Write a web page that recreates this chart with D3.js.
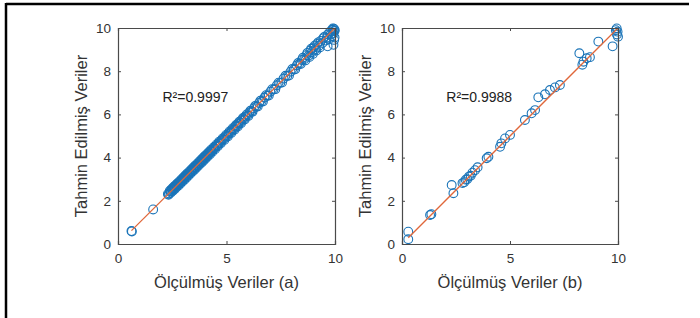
<!DOCTYPE html>
<html>
<head>
<meta charset="utf-8">
<script src="https://cdn.jsdelivr.net/npm/d3@7"></script>
<style>
body { margin: 0; background: #fff; }
svg { display: block; font-family: "Liberation Sans", Arial, sans-serif; }
</style>
</head>
<body>
<div id="chart"></div>
<script>
// panel (a): measured vs predicted
let measA = [0.62,0.64,1.62,2.30,2.36,2.41,2.46,2.50,2.55,2.59,2.63,2.68,2.72,2.77,2.81,2.86,2.90,2.95,2.99,3.04,3.08,3.13,3.17,3.22,3.26,3.31,3.35,3.40,3.44,3.49,3.53,3.58,3.62,3.67,3.71,3.76,3.80,3.85,3.89,3.94,3.98,4.03,4.07,4.12,4.16,4.21,4.26,4.32,4.38,4.44,4.50,4.57,4.63,4.70,4.78,4.86,4.94,5.02,5.10,5.18,5.25,5.33,5.40,5.48,5.55,5.63,5.71,5.80,5.88,5.97,6.06,6.15,6.26,6.38,6.50,6.62,6.75,6.88,7.02,7.17,7.32,7.48,7.63,7.80,7.95,8.10,8.24,8.36,8.47,8.58,8.68,8.78,8.86,8.94,9.02,9.10,9.18,9.26,9.34,9.42,9.50,9.58,9.66,9.72,9.78,9.84,9.88,9.92,9.95,9.97,9.98,9.93,9.66,
    2.33,2.39,2.44,2.48,2.53,2.57,2.62,2.66,2.70,2.75,2.79,2.84,2.88,2.93,2.97,3.02,3.06,3.11,3.15,3.20,3.24,3.29,3.33,3.38,3.42,3.47,3.51,3.56,3.60,3.65,3.69,3.74,3.78,3.83,3.87,3.92,3.96,4.01,4.05,4.10,4.14,4.19,4.24,4.29,4.35,4.41,4.47,4.54,4.60,4.67,4.74,4.82,4.90,4.98,5.06,5.14,5.22,5.29,5.37,5.44,5.52,5.59,5.67,5.76,5.84,5.93,6.01,6.10,6.20,6.32,6.44,6.56,6.68,6.82,6.95,7.10,7.25,7.40,7.56,7.72,7.88,8.03,8.17,8.30,8.42,8.52,8.63,8.73,8.82,8.90,8.98,9.06,9.14,9.22,9.30,9.46,9.62,9.80,9.90,9.96,9.99];
let predA = [0.60,0.58,1.60,2.32,2.34,2.44,2.45,2.53,2.54,2.60,2.66,2.67,2.74,2.76,2.83,2.85,2.92,2.94,3.01,3.03,3.10,3.12,3.19,3.21,3.28,3.30,3.37,3.39,3.46,3.48,3.55,3.57,3.64,3.66,3.73,3.75,3.82,3.84,3.91,3.93,4.00,4.02,4.09,4.11,4.18,4.20,4.27,4.31,4.40,4.43,4.52,4.55,4.65,4.68,4.80,4.85,4.96,5.00,5.13,5.16,5.28,5.31,5.43,5.46,5.58,5.61,5.74,5.78,5.91,5.95,6.09,6.13,6.29,6.36,6.53,6.60,6.78,6.86,7.05,7.15,7.35,7.46,7.66,7.78,7.98,8.08,8.27,8.34,8.52,8.55,8.74,8.72,8.95,8.88,9.10,9.02,9.26,9.18,9.40,9.30,9.58,9.42,9.70,9.48,9.84,9.62,9.92,9.74,9.97,9.86,9.56,9.22,9.15,
    2.28,2.47,2.38,2.56,2.47,2.65,2.55,2.73,2.64,2.82,2.71,2.91,2.80,3.00,2.89,3.09,2.98,3.18,3.07,3.27,3.16,3.36,3.25,3.45,3.34,3.54,3.43,3.63,3.52,3.72,3.61,3.81,3.70,3.90,3.79,3.99,3.88,4.08,3.97,4.17,4.06,4.26,4.15,4.36,4.27,4.48,4.39,4.61,4.52,4.74,4.66,4.89,4.82,5.05,4.98,5.21,5.14,5.36,5.29,5.51,5.44,5.66,5.59,5.83,5.76,6.00,5.93,6.17,6.12,6.39,6.36,6.63,6.60,6.89,6.87,7.17,7.17,7.47,7.48,7.79,7.80,8.10,8.09,8.38,8.33,8.62,8.50,8.85,8.66,9.04,8.80,9.18,8.96,9.33,9.10,9.52,9.55,9.70,9.98,9.45,9.90];

// panel (b)
let measB = [0.29,0.29,1.30,1.36,2.30,2.38,2.80,2.88,2.95,3.02,3.10,3.18,3.26,3.38,3.50,3.92,4.00,4.54,4.60,4.77,5.00,5.69,6.00,6.16,6.31,6.62,6.85,7.08,7.31,8.21,8.35,8.40,8.55,8.70,9.09,9.75,9.90,9.94,9.95,9.98,10.0];
let predB = [0.57,0.22,1.34,1.38,2.73,2.35,2.82,2.86,2.98,3.00,3.12,3.16,3.30,3.42,3.55,3.97,4.04,4.50,4.66,4.89,5.05,5.74,6.05,6.20,6.79,6.93,7.13,7.25,7.36,8.83,8.30,8.44,8.60,8.65,9.37,9.15,9.90,9.98,9.70,9.83,9.60];

let ticksY = [0,2,4,6,8,10];
let ticksX = [0,5,10];
let r2Labels = ["R\u00b2=0.9997","R\u00b2=0.9988"];
let xTitles = ["Ölçülmüş Veriler (a)","Ölçülmüş Veriler (b)"];
let yTitle = "Tahmin Edilmiş Veriler";

var svg = d3.select("#chart").append("svg")
    .attr("width", 700)
    .attr("height", 318);

// frame of the figure
svg.append("line").attr("x1", 6).attr("y1", 4).attr("x2", 689).attr("y2", 4)
    .attr("stroke", "#000").attr("stroke-width", 2.5);
svg.append("line").attr("x1", 6).attr("y1", 3).attr("x2", 6).attr("y2", 318)
    .attr("stroke", "#000").attr("stroke-width", 2.5);

function panel(left, right, meas, pred, r2, xTitle){
    let x = d3.scaleLinear().domain([0,10]).range([left, right]);
    let y = d3.scaleLinear().domain([0,10]).range([244, 28]);
    let g = svg.append("g");

    // points
    g.selectAll("circle.pt")
        .data(meas)
        .enter().append("circle")
        .attr("class", "pt")
        .attr("cx", d => x(d))
        .attr("cy", (d, i) => y(pred[i]))
        .attr("r", 4.4)
        .attr("fill", "none")
        .attr("stroke", "#1a74b8")
        .attr("stroke-width", 1.1);

    // y = x line over data range
    let lo = d3.min(meas), hi = d3.max(meas);
    g.append("line")
        .attr("x1", x(lo)).attr("y1", y(lo))
        .attr("x2", x(hi)).attr("y2", y(hi))
        .attr("stroke", "#E0673A")
        .attr("stroke-width", 1.3);

    // axes (MATLAB style, ticks inside, box on)
    let axColor = "#4a4a4a";
    let ax = [
        g.append("g").attr("transform", "translate(0,244)")
            .call(d3.axisBottom(x).tickValues(ticksX).tickSize(-3).tickPadding(9)),
        g.append("g").attr("transform", "translate(" + left + ",0)")
            .call(d3.axisLeft(y).tickValues(ticksY).tickSize(-3).tickPadding(7)),
        g.append("g").attr("transform", "translate(0,28)")
            .call(d3.axisTop(x).tickValues(ticksX).tickSize(-3).tickFormat("")),
        g.append("g").attr("transform", "translate(" + right + ",0)")
            .call(d3.axisRight(y).tickValues(ticksY).tickSize(-3).tickFormat(""))
    ];
    ax.forEach(a => {
        a.select(".domain").attr("stroke", axColor).attr("stroke-width", 1.2);
        a.selectAll(".tick line").attr("stroke", axColor);
        a.selectAll(".tick text").attr("fill", "#333").style("font-size", "13.5px")
            .style("font-family", "Liberation Sans, Arial, sans-serif");
    });

    g.append("text")
        .attr("x", x(2.05)).attr("y", 102)
        .attr("fill", "#222")
        .style("font-size", "14px")
        .text(r2);

    g.append("text")
        .attr("x", (left + right) / 2).attr("y", 288)
        .attr("text-anchor", "middle")
        .attr("fill", "#333")
        .style("font-size", "16.5px")
        .text(xTitle);

    g.append("text")
        .attr("transform", "translate(" + (left - 31) + ",136) rotate(-90)")
        .attr("text-anchor", "middle")
        .attr("fill", "#333")
        .style("font-size", "16.5px")
        .text(yTitle);
}

panel(118, 335, measA, predA, r2Labels[0], xTitles[0]);
panel(402, 618, measB, predB, r2Labels[1], xTitles[1]);
</script>
</body>
</html>
